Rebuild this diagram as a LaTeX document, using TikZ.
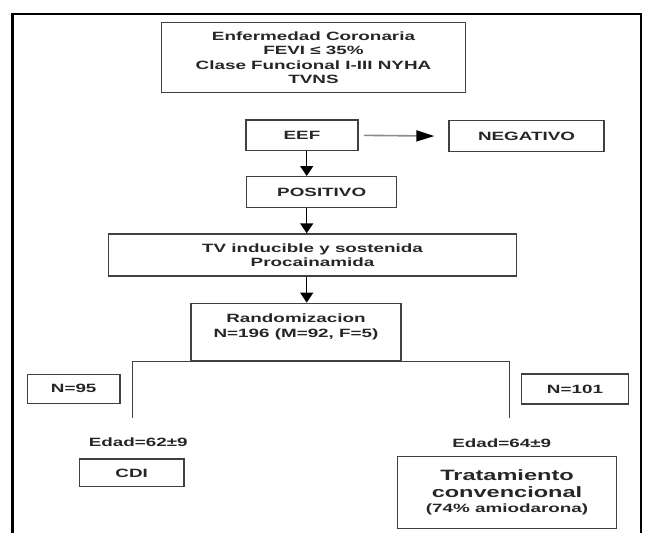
\documentclass[tikz,border=0pt]{standalone}
\usepackage{fontspec}
\setmainfont{Liberation Sans}
\usetikzlibrary{arrows.meta}
\newcommand\wx[1]{\scalebox{1.57}[1]{#1}}
\begin{document}
\begin{tikzpicture}[x=1pt,y=-1pt,
  txt/.style={font=\bfseries\fontsize{12}{14.4}\selectfont, text=black!85, align=center, inner sep=0pt},
  box/.style={txt, draw=black!75, line width=1.4pt},
  arr/.style={line width=1.5pt, -{Triangle[length=10pt,width=13pt]}},
  link/.style={line width=1.4pt, draw=black!75}]
\useasboundingbox (0,0) rectangle (646,533);
\fill[white] (0,0) rectangle (646,533);
\draw[line width=2.5pt] (12.7,533) -- (12.7,14) -- (641,14) -- (641,533);

\node[box, minimum width=303.5pt, minimum height=70pt] (top) at (313.5,57.7)
  {\wx{Enfermedad Coronaria}\\\wx{FEVI ≤ 35\%}\\\wx{Clase Funcional I-III NYHA}\\\wx{TVNS}};
\node[box, minimum width=111.7pt, minimum height=30.5pt] (eef) at (302,135.3) {\wx{EEF}};
\node[box, minimum width=155pt, minimum height=31pt] (neg) at (526.5,136.2) {\wx{NEGATIVO}};
\node[box, minimum width=150pt, minimum height=31pt] (pos) at (321.7,192.2) {\wx{POSITIVO}};
\node[box, minimum width=408.4pt, minimum height=42pt] (tv) at (312.5,255)
  {\wx{TV inducible y sostenida}\\\wx{Procainamida}};
\node[box, minimum width=210pt, minimum height=57.2pt] (rand) at (296,331.9) {};
\node[txt] (randtxt) at (296,326.7) {\wx{Randomizacion}\\\wx{N=196 (M=92, F=5)}};
\node[box, minimum width=92.7pt, minimum height=29pt] (n95) at (73.7,388.8) {\wx{N=95}};
\node[box, minimum width=106.6pt, minimum height=30pt] (n101) at (575,389) {\wx{N=101}};
\node[txt] (edad1) at (138.3,442.7) {\wx{Edad=62±9}};
\node[txt] (edad2) at (501.7,443.3) {\wx{Edad=64±9}};
\node[box, minimum width=104.7pt, minimum height=27.7pt] (cdi) at (131.7,472.9) {\wx{CDI}};
\node[box, minimum width=219pt, minimum height=72.3pt] (trat) at (507,492.5)
  {\wx{\fontsize{15}{16.7}\selectfont Tratamiento}\\[2.3pt]\wx{\fontsize{15}{16.7}\selectfont convencional}\\[0.6pt]\wx{(74\% amiodarona)}};

\coordinate (ax) at (306.7,0);
\coordinate (bl) at (132.7,417.7);
\coordinate (br) at (509.7,417.7);

\draw[line width=1.6pt, black!45, shorten <=5.3pt, shorten >=14pt,
  -{Triangle[length=18pt,width=11pt,color=black]}] (eef.east) -- (neg.west);
\draw[arr] (ax |- eef.south) -- (ax |- pos.north);
\draw[arr] (ax |- pos.south) -- (ax |- tv.north);
\draw[arr] (ax |- tv.south) -- (ax |- rand.north);
\draw[link] (bl) |- (rand.south) -| (br);
\end{tikzpicture}
\end{document}
